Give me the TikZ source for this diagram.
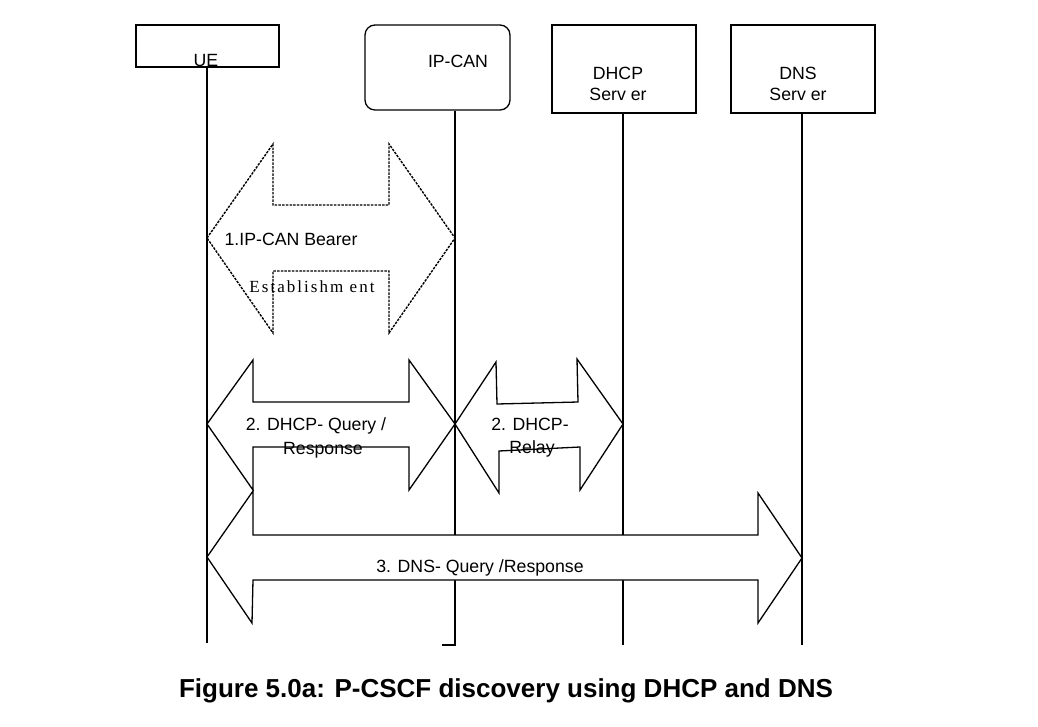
\documentclass[tikz,border=0pt]{standalone}
\usepackage{fontspec}
\setmainfont{Liberation Sans}
\newfontfamily\serifx[LetterSpace=12]{Liberation Serif}
\begin{document}
\begin{tikzpicture}[x=1pt,y=-1pt,line width=1.3pt,
  lbl/.style={font=\fontsize{17.7}{20}\selectfont, inner sep=0pt},
  box/.style={draw, line width=1.3pt, inner sep=0pt},
  life/.style={draw, line width=1.3pt},
  blk/.style={draw, fill=white, line width=1.3pt, line join=miter},
  dsh/.style={draw, fill=white, line width=1.4pt, dash pattern=on 2.5pt off 1.2pt}]
\useasboundingbox (0,0) rectangle (1038,726);
% boxes
\node[box, minimum width=143pt, minimum height=42pt] (ue) at (207.5,46) {};
\node[box, rounded corners=10pt, minimum width=145pt, minimum height=85pt] (ipcan) at (437.5,67.5) {};
\node[box, minimum width=144pt, minimum height=88pt] (dhcp) at (624,69) {};
\node[box, minimum width=144pt, minimum height=88pt] (dns) at (803,69) {};
% lifeline ends
\coordinate (ueend) at (207,643);
\coordinate (ipend) at (455,645);
\coordinate (iptick) at (442,645);
\coordinate (dhcpend) at (623,645);
\coordinate (dnsend) at (802,645);
\draw[life] (ueend |- ue.south) -- (ueend);
\draw[life] (ipend |- ipcan.south) -- (ipend) -- (iptick);
\draw[life] (dhcpend |- dhcp.south) -- (dhcpend);
\draw[life] (dnsend |- dns.south) -- (dnsend);
% box labels
\node[lbl] (uet) at (206,60) {UE};
\node[lbl] (ipt) at (458,61) {IP-CAN};
\node[lbl] (dhcpt1) at (618,73) {DHCP};
\node[lbl] (dhcpt2) at (618,94) {Serv er};
\node[lbl] (dnst1) at (798,73) {DNS};
\node[lbl] (dnst2) at (798,94) {Serv er};
% 1. dashed block arrow
\path[dsh] (207,238) -- (273,144) -- (273,205) -- (389,205) -- (389,144) -- (455,238)
  -- (389,333) -- (389,271) -- (273,271) -- (273,333) -- cycle;
% 2a
\path[blk] (207,424) -- (253,360) -- (253,402) -- (409,402) -- (409,360) -- (455,424)
  -- (409,490) -- (409,447) -- (253,447) -- (253,490) -- cycle;
% 2b
\path[blk] (455,424) -- (496,362) -- (497,404) -- (578,402) -- (577,359) -- (623,424)
  -- (580,490) -- (580,447) -- (499,451) -- (499,493) -- cycle;
% 3
\path[blk] (207,557) -- (253,491) -- (253,535) -- (758,535) -- (758,493) -- (802,558)
  -- (758,623) -- (758,580) -- (253,580) -- (252,623) -- cycle;
% labels
\node[lbl, anchor=west] (l1) at (224,239) {1.IP-CAN Bearer};
\node[inner sep=0pt, font=\serifx\fontsize{17}{19}\selectfont] (l1b) at (312,287) {Establishm ent};
\node[lbl] (l2a1) at (316,426) {2. DHCP- Query /};
\node[lbl] (l2a2) at (323,450) {Response};
\node[lbl] (l2b1) at (530,424) {2. DHCP-};
\node[lbl] (l2b2) at (532,449) {Relay};
\node[lbl] (l3) at (480,568) {3. DNS- Query /Response};
\node[inner sep=0pt, font=\bfseries\fontsize{26}{30}\selectfont] (cap) at (506,691) {Figure 5.0a: P-CSCF discovery using DHCP and DNS};
\end{tikzpicture}
\end{document}
